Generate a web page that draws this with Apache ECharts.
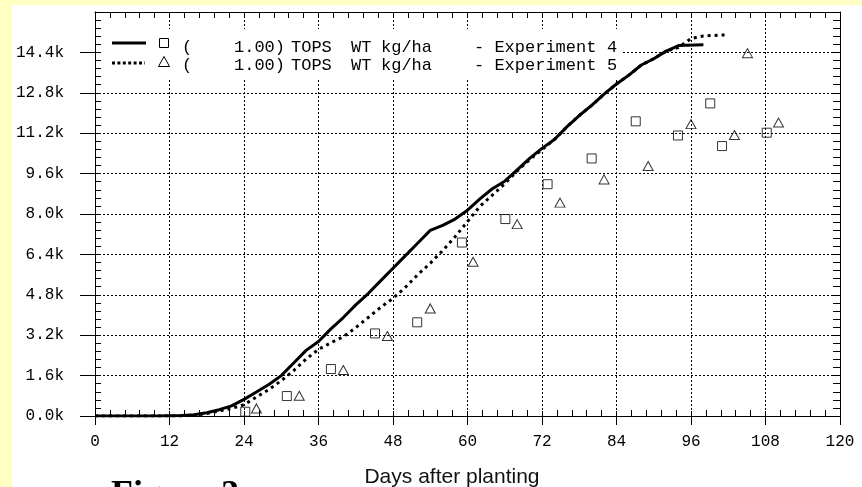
<!DOCTYPE html>
<html>
<head>
<meta charset="utf-8">
<script src="https://cdn.jsdelivr.net/npm/echarts@6/dist/echarts.min.js"></script>
<style>
  html, body { margin:0; padding:0; width:862px; height:487px; overflow:hidden; background:#FFFFC4; }
  #paper { position:absolute; left:12px; top:5px; width:850px; height:482px; background:#fff; }
  #chart { position:absolute; left:0; top:0; width:862px; height:487px; }
</style>
</head>
<body>
<div id="paper"></div>
<div id="chart"></div>
<script>
// ---- data (tops weight in thousands kg/ha) ----
const xTicks = [0, 12, 24, 36, 48, 60, 72, 84, 96, 108, 120];
const yTicks = [0, 1.6, 3.2, 4.8, 6.4, 8.0, 9.6, 11.2, 12.8, 14.4];

// Experiment 4 simulated (solid)
const simDays4 = [0, 10, 14, 16, 18, 20, 22, 24, 26, 28, 30, 32, 34, 36, 38, 40, 42, 44, 46, 48, 50, 52, 54, 56, 58, 60, 62, 64, 66, 68, 70, 72, 74, 76, 78, 80, 82, 84, 86, 88, 90, 92, 94, 98];
const simTops4 = [0, 0, 0.02, 0.05, 0.13, 0.25, 0.4, 0.66, 0.95, 1.25, 1.6, 2.1, 2.6, 2.95, 3.45, 3.9, 4.4, 4.85, 5.35, 5.85, 6.35, 6.85, 7.35, 7.55, 7.8, 8.15, 8.6, 9.0, 9.3, 9.75, 10.2, 10.6, 10.95, 11.45, 11.9, 12.3, 12.75, 13.15, 13.5, 13.9, 14.15, 14.45, 14.67, 14.7];

// Experiment 5 simulated (dotted)
const simDays5 = [0, 14, 16, 18, 20, 22, 24, 26, 28, 30, 32, 34, 36, 38, 40, 42, 44, 46, 48, 50, 52, 54, 56, 58, 60, 62, 64, 66, 68, 70, 72, 74, 76, 78, 80, 82, 84, 86, 88, 90, 92, 94, 96, 98, 102];
const simTops5 = [0, 0, 0.03, 0.1, 0.2, 0.3, 0.45, 0.75, 1.05, 1.4, 1.8, 2.25, 2.64, 2.9, 3.14, 3.5, 3.9, 4.3, 4.66, 5.1, 5.6, 6.05, 6.55, 7.1, 7.7, 8.3, 8.75, 9.2, 9.7, 10.15, 10.55, 10.95, 11.45, 11.9, 12.3, 12.75, 13.15, 13.5, 13.9, 14.15, 14.45, 14.6, 14.95, 15.05, 15.1];

// Experiment 4 observed (squares)
const obsDays4 = [24.2, 30.9, 38.0, 45.1, 51.9, 59.1, 66.1, 72.9, 80.0, 87.1, 93.9, 99.1, 101.0, 108.2];
const obsTops4 = [0.17, 0.79, 1.86, 3.27, 3.71, 6.87, 7.8, 9.18, 10.2, 11.67, 11.11, 12.38, 10.69, 11.22];

// Experiment 5 observed (triangles)
const obsDays5 = [26.0, 32.9, 40.0, 47.1, 54.0, 60.9, 68.0, 74.9, 82.0, 89.1, 96.0, 103.0, 105.1, 110.1];
const obsTops5 = [0.3, 0.8, 1.82, 3.17, 4.26, 6.11, 7.6, 8.45, 9.37, 9.9, 11.56, 11.13, 14.37, 11.62];

const legendWords = ['(', '1.00)', 'TOPS', 'WT', 'kg/ha', '- Experiment'];
const legendExperiments = ['4', '5'];
const xTitle = 'Days after planting';
const figLabel = 'Figure 3';

const pairs = (xs, ys) => xs.map((x, i) => [x, ys[i]]);

const MONO = 'Liberation Mono';
const grid = { left: 95, right: 22, top: 12, bottom: 71 };
const xRange = { min: xTicks[0], max: xTicks[xTicks.length - 1], interval: xTicks[1] - xTicks[0] };
const yRange = { min: 0, max: 16, interval: 1.6 };
const black = '#000';

const chart = echarts.init(document.getElementById('chart'), null, { renderer: 'canvas' });

const xAxes = [
  Object.assign({ type: 'value', position: 'bottom',
    axisLine: { onZero: false, lineStyle: { color: black, width: 1 } },
    axisTick: { inside: false, length: 9, lineStyle: { color: black } },
    axisLabel: { margin: 18, fontFamily: MONO, fontSize: 16, color: black, formatter: v => String(v) },
    splitLine: { show: true, lineStyle: { color: black, type: [2, 2], width: 1 } } }, xRange),
  Object.assign({ type: 'value', position: 'bottom',
    axisLine: { show: false, onZero: false },
    axisTick: { inside: true, length: 5, lineStyle: { color: black } },
    minorTick: { show: true, splitNumber: 5, length: 6, lineStyle: { color: black } },
    axisLabel: { show: false }, splitLine: { show: false } }, xRange),
  Object.assign({ type: 'value', position: 'top',
    axisLine: { show: true, onZero: false, lineStyle: { color: black, width: 1 } },
    axisTick: { inside: true, length: 6, lineStyle: { color: black } },
    minorTick: { show: true, splitNumber: 5, length: 6, lineStyle: { color: black } },
    axisLabel: { show: false }, splitLine: { show: false } }, xRange)
];

const yAxes = [
  Object.assign({ type: 'value', position: 'left',
    axisLine: { show: true, onZero: false, lineStyle: { color: black, width: 1 } },
    axisTick: { show: true, inside: false, length: 15, lineStyle: { color: black } },
    axisLabel: { margin: 31, fontFamily: MONO, fontSize: 16, color: black, showMaxLabel: false,
      formatter: v => (yTicks.some(t => Math.abs(t - v) < 1e-6) ? v.toFixed(1) + 'k' : '') },
    splitLine: { show: true, lineStyle: { color: black, type: [2, 2], width: 1 } } }, yRange),
  Object.assign({ type: 'value', position: 'left',
    axisLine: { show: false, onZero: false },
    axisTick: { show: true, inside: true, length: 6, lineStyle: { color: black } },
    minorTick: { show: true, splitNumber: 5, length: 6, lineStyle: { color: black } },
    axisLabel: { show: false }, splitLine: { show: false } }, yRange),
  Object.assign({ type: 'value', position: 'right',
    axisLine: { show: true, onZero: false, lineStyle: { color: black, width: 1 } },
    axisTick: { show: true, inside: true, length: 9, lineStyle: { color: black } },
    minorTick: { show: true, splitNumber: 5, length: 7, lineStyle: { color: black } },
    axisLabel: { show: false }, splitLine: { show: false } }, yRange)
];

const lx = 112, row1 = 43, row2 = 63;
const tri = (cx, cy, s) => [[cx, cy - s * 0.55], [cx + s * 0.55, cy + s * 0.45], [cx - s * 0.55, cy + s * 0.45]];

const graphic = [
  { type: 'rect', z: 1, shape: { x: 103, y: 29, width: 518, height: 50 }, style: { fill: '#fff' } },
  { type: 'line', z: 2, shape: { x1: lx, y1: row1, x2: lx + 34, y2: row1 }, style: { stroke: black, lineWidth: 3 } },
  { type: 'line', z: 2, shape: { x1: lx, y1: row2, x2: lx + 33, y2: row2 }, style: { stroke: black, lineWidth: 3, lineDash: [3, 2.4] } },
  { type: 'rect', z: 2, shape: { x: 159.5, y: row1 - 4.5, width: 9, height: 9 }, style: { fill: 'none', stroke: black, lineWidth: 1 } },
  { type: 'polygon', z: 2, shape: { points: tri(164, row2 - 1, 10) }, style: { fill: 'none', stroke: black, lineWidth: 1 } },
  { type: 'text', z: 3, x: 452, y: 488, style: { text: xTitle, fill: '#111', font: '21px "Liberation Sans"', textAlign: 'center', textVerticalAlign: 'bottom' } },
  { type: 'text', z: 3, x: 111, y: 478, style: { text: figLabel, fill: '#000', font: 'bold 36px "Liberation Serif"', textAlign: 'left', textVerticalAlign: 'top' } }
];
const wordX = [182, 234, 291, 351, 381, 474];
[row1 + 4, row2 + 2].forEach((y, i) => {
  legendWords.forEach((w, j) => {
    graphic.push({ type: 'text', z: 3, x: wordX[j], y: y, style: { text: w, fill: black, font: '17px ' + MONO, textVerticalAlign: 'middle' } });
  });
  graphic.push({ type: 'text', z: 3, x: 607, y: y, style: { text: legendExperiments[i], fill: black, font: '17px ' + MONO, textVerticalAlign: 'middle' } });
});

chart.setOption({
  animation: false,
  backgroundColor: 'transparent',
  grid: grid,
  xAxis: xAxes,
  yAxis: yAxes,
  graphic: graphic,
  series: [
    { name: 'Experiment 4 sim', type: 'line', xAxisIndex: 0, yAxisIndex: 0, data: pairs(simDays4, simTops4),
      showSymbol: false, lineStyle: { color: black, width: 3 }, z: 4 },
    { name: 'Experiment 5 sim', type: 'line', xAxisIndex: 0, yAxisIndex: 0, data: pairs(simDays5, simTops5),
      showSymbol: false, lineStyle: { color: black, width: 3, type: [3, 4] }, z: 4 },
    { name: 'Experiment 4 obs', type: 'scatter', xAxisIndex: 0, yAxisIndex: 0, data: pairs(obsDays4, obsTops4),
      symbol: 'rect', symbolSize: 9, itemStyle: { color: 'rgba(255,255,255,0)', borderColor: black, borderWidth: 1 }, z: 3 },
    { name: 'Experiment 5 obs', type: 'scatter', xAxisIndex: 0, yAxisIndex: 0, data: pairs(obsDays5, obsTops5),
      symbol: 'triangle', symbolSize: [10, 9], itemStyle: { color: 'rgba(255,255,255,0)', borderColor: black, borderWidth: 1 }, z: 3 }
  ]
});
</script>
</body>
</html>
